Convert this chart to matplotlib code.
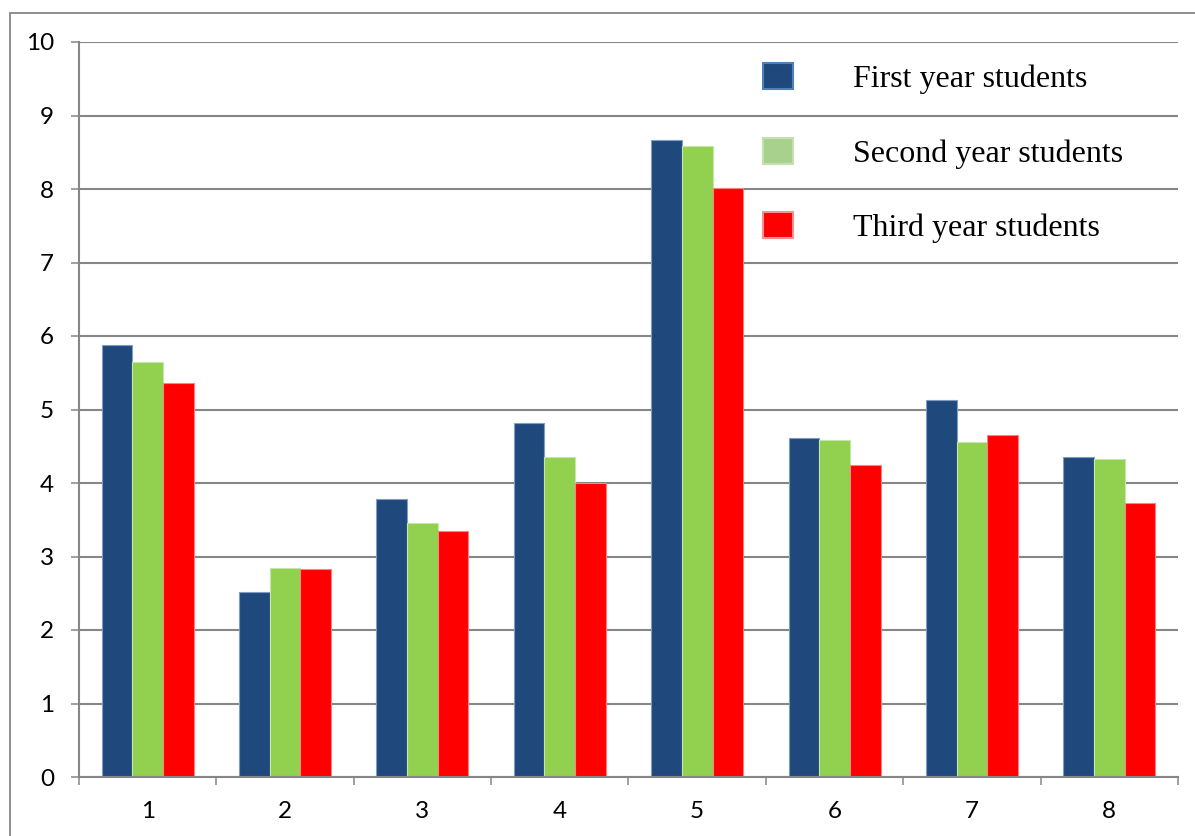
import matplotlib

matplotlib.use("Agg")
import matplotlib.pyplot as plt
from matplotlib.patches import Patch, Rectangle
import numpy as np

# data
categories = ["1", "2", "3", "4", "5", "6", "7", "8"]
first_year = [5.88, 2.52, 3.78, 4.82, 8.66, 4.61, 5.13, 4.35]
second_year = [5.65, 2.85, 3.45, 4.35, 8.58, 4.58, 4.56, 4.32]
third_year = [5.36, 2.83, 3.35, 4.00, 8.01, 4.25, 4.65, 3.73]
series_names = ["First year students", "Second year students", "Third year students"]

bar_colors = ["#1F497D", "#92D050", "#FF0000"]
edge_colors = ["#7F9CC4", "#C6E6A5", "#FF8080"]
legend_colors = ["#1F497D", "#A9D18E", "#FF0000"]
legend_edges = ["#4F81BD", "#C4E0B0", "#FF9090"]
grid_grey = "#868686"

fig = plt.figure(figsize=(11.95, 8.36), dpi=100)
ax = fig.add_axes([79 / 1195, 1 - 777 / 836, (1178 - 79) / 1195, (777 - 42) / 836])

x = np.arange(len(categories))
w = 0.223
for i, vals in enumerate([first_year, second_year, third_year]):
    ax.bar(x + (i - 1) * w, vals, w, color=bar_colors[i], edgecolor=edge_colors[i],
           linewidth=0.8, zorder=2)

ax.set_xlim(-0.5, len(categories) - 0.5)
ax.set_ylim(0, 10)
ax.set_yticks(np.arange(0, 11, 1))
ax.set_xticks(x)
ax.set_xticklabels(categories)
ax.set_xticks(np.arange(-0.5, len(categories), 1), minor=True)
ax.yaxis.grid(True, color=grid_grey, linewidth=1.5, zorder=0)
ax.set_axisbelow(True)

for s in ["top", "right"]:
    ax.spines[s].set_visible(False)
for s in ["left", "bottom"]:
    ax.spines[s].set_color(grid_grey)
    ax.spines[s].set_linewidth(1.5)

ax.tick_params(axis="y", length=6, width=1.1, color=grid_grey, pad=12)
ax.tick_params(axis="x", which="major", length=0, pad=17)
ax.tick_params(axis="x", which="minor", length=6, width=1.1, color=grid_grey)
for lab in ax.get_xticklabels() + ax.get_yticklabels():
    lab.set_fontfamily("Lato")
    lab.set_fontsize(17.5)

handles = [Patch(facecolor=legend_colors[i], edgecolor=legend_edges[i], linewidth=1.5)
           for i in range(3)]
ax.legend(handles, series_names, loc="upper left", frameon=False,
          bbox_to_anchor=(763 / 1195, 1 - 63 / 836), bbox_transform=fig.transFigure,
          borderpad=0, borderaxespad=0,
          prop={"family": "Liberation Serif", "size": 23},
          handlelength=0.94, handleheight=0.88, handletextpad=1.88, labelspacing=1.36)

# outer chart frame
fig.add_artist(Rectangle((10 / 1195, -0.2), 1.2, 1.2 - 13 / 836, transform=fig.transFigure,
                         fill=False, edgecolor=grid_grey, linewidth=1.3, clip_on=False))

fig.savefig("out.png", dpi=100)
